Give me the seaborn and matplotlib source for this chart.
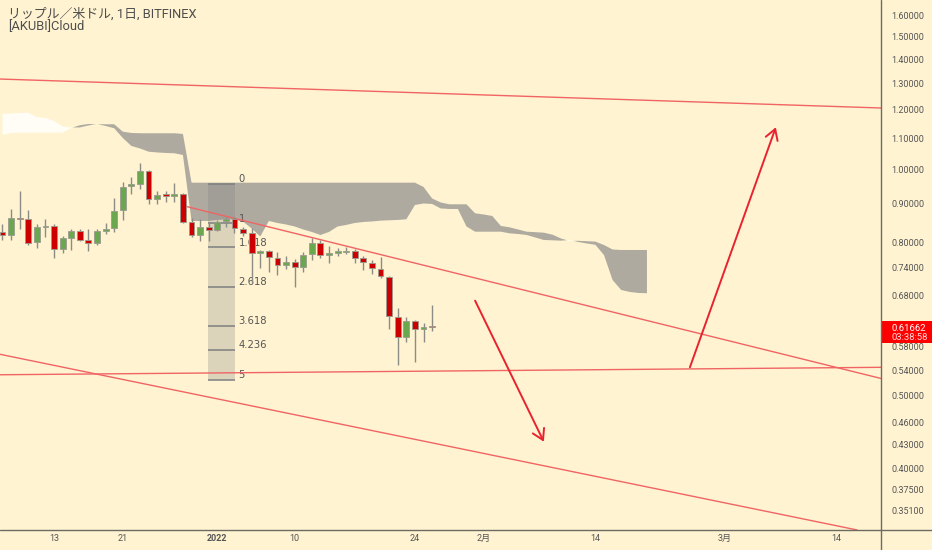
import matplotlib
matplotlib.use("Agg")
import matplotlib.pyplot as plt
import seaborn as sns
import numpy as np
from matplotlib.lines import Line2D
from matplotlib.patches import Rectangle

# ---- data (x = days from 2022-01-01, y = XRP/USD price) ----
candle_days = list(range(-25, 26))
opens = [0.8258, 0.8174, 0.8619, 0.8577, 0.8008, 0.8377, 0.8395, 0.7831, 0.8107, 0.8268,
         0.8050, 0.7969, 0.8276, 0.8359, 0.8817, 0.9490, 0.9557, 0.9945, 0.9119, 0.9260,
         0.9220, 0.9268, 0.8515, 0.8174, 0.8385, 0.8301, 0.8533, 0.8577, 0.8318, 0.8216,
         0.7729, 0.7783, 0.7625, 0.7457, 0.7519, 0.7404, 0.7705, 0.7984, 0.7688, 0.7743,
         0.7766, 0.7783, 0.7611, 0.7510, 0.7372, 0.7194, 0.6364, 0.5986, 0.6275, 0.6129, 0.6181]
highs = [0.8454, 0.8844, 0.9354, 0.8825, 0.8454, 0.8577, 0.8454, 0.8157, 0.8326, 0.8326,
         0.8326, 0.8318, 0.8488, 0.9155, 0.9615, 0.9773, 1.0182, 0.9976, 0.9363, 0.9363,
         0.9577, 0.9283, 0.8603, 0.8585, 0.8515, 0.8559, 0.8646, 0.8646, 0.8369, 0.8343,
         0.7807, 0.7807, 0.7766, 0.7665, 0.7588, 0.7759, 0.8092, 0.8050, 0.7903, 0.7848,
         0.7872, 0.7824, 0.7665, 0.7572, 0.7634, 0.7209, 0.6530, 0.6364, 0.6300, 0.6240, 0.6597]
lows = [0.8050, 0.8050, 0.8326, 0.7927, 0.7862, 0.8116, 0.7625, 0.7742, 0.7807, 0.8018,
        0.7783, 0.7927, 0.8207, 0.8258, 0.8551, 0.9260, 0.9412, 0.8989, 0.8989, 0.9052,
        0.9052, 0.8480, 0.8132, 0.8033, 0.8033, 0.8283, 0.8369, 0.8216, 0.8149, 0.7050,
        0.7381, 0.7305, 0.7231, 0.7359, 0.6977, 0.7305, 0.7572, 0.7611, 0.7510, 0.7665,
        0.7712, 0.7495, 0.7343, 0.7254, 0.7158, 0.6135, 0.5484, 0.5890, 0.5534, 0.5885, 0.6091]
closes = [0.8166, 0.8619, 0.8593, 0.7984, 0.8385, 0.8403, 0.7831, 0.8107, 0.8268, 0.8057,
          0.7977, 0.8268, 0.8334, 0.8798, 0.9469, 0.9557, 0.9945, 0.9119, 0.9248, 0.9220,
          0.9268, 0.8515, 0.8174, 0.8385, 0.8301, 0.8515, 0.8585, 0.8343, 0.8233, 0.7729,
          0.7783, 0.7634, 0.7457, 0.7519, 0.7404, 0.7688, 0.7984, 0.7688, 0.7729, 0.7783,
          0.7783, 0.7625, 0.7533, 0.7381, 0.7209, 0.6378, 0.5986, 0.6275, 0.6129, 0.6173, 0.6166]

# cloud spans, one value per day from -25 to 50
cloud_days = list(range(-25, 51))
lead_a = [1.1105, 1.1173, 1.1183, 1.1183, 1.1183, 1.1183, 1.1183, 1.1183, 1.1345, 1.1440,
          1.1485, 1.1478, 1.1475, 1.1475, 1.1218, 1.1173, 1.1163, 1.1163, 1.1163, 1.1163,
          1.1163, 1.1139] + [0.9595] * 27 + [
          0.9469, 0.9141, 0.9030, 0.8980, 0.8980, 0.8980, 0.8736, 0.8704, 0.8664, 0.8403,
          0.8369, 0.8313, 0.8257, 0.8245, 0.8232, 0.8182, 0.8087, 0.8025, 0.8030, 0.8020,
          0.8010, 0.7927, 0.7819, 0.7807, 0.7807, 0.7807, 0.7807]
lead_b = [1.1843, 1.1861, 1.1879, 1.1886, 1.1734, 1.1698, 1.1591, 1.1398, 1.1363, 1.1363,
          1.1433, 1.1485, 1.1415, 1.1335, 1.1003, 1.0737, 1.0655, 1.0551, 1.0525, 1.0509,
          1.0499, 1.0445, 0.8533, 0.8533, 0.8533, 0.8559, 0.8572, 0.8572, 0.8515, 0.8339,
          0.8137, 0.8533, 0.8480, 0.8441, 0.8390, 0.8313, 0.8250, 0.8174, 0.8250, 0.8390,
          0.8429, 0.8480, 0.8506, 0.8520, 0.8541, 0.8551, 0.8559, 0.8577, 0.8961, 0.9002,
          0.8989, 0.8866, 0.8852, 0.8852, 0.8390, 0.8257, 0.8257, 0.8257, 0.8257, 0.8216,
          0.8199, 0.8174, 0.8112, 0.8050, 0.8042, 0.8033, 0.8050, 0.8001, 0.7964, 0.7932,
          0.7688, 0.7121, 0.6907, 0.6865, 0.6844, 0.6838]

# fibonacci tool
fib_levels = ["0", "1", "1.618", "2.618", "3.618", "4.236", "5"]
fib_prices = [0.9557, 0.8475, 0.7869, 0.6979, 0.6189, 0.5747, 0.5242]
fib_days = [-1.08, 2.06]

# drawn trend lines: two points each (day, price)
top_line = [(-25.3, 1.318), (77.3, 1.206)]
flat_line = [(-25.3, 0.5327), (77.3, 0.5450)]
low_line = [(-25.3, 0.5672), (73.75, 0.3324)]
ray_days = [-3.85, 77.3]
ray_prices = [0.8934, 0.5265]

# arrows: (start, end)
arrow_down = [(30.0, 0.6684), (38.0, 0.4339)]
arrow_up = [(55.0, 0.5450), (65.0, 1.137)]

last_price = 0.61662
countdown = "03:38:58"

x_ticks = [-19, -11, 0, 9, 23, 31, 44, 59, 72]
x_labels = ["13", "21", "2022", "10", "24", "2月", "14", "3月", "14"]
y_ticks = [1.6, 1.5, 1.4, 1.3, 1.2, 1.1, 1.0, 0.9, 0.8, 0.74, 0.68, 0.58,
           0.54, 0.5, 0.46, 0.43, 0.4, 0.375, 0.351]

title = "リップル／米ドル, 1日, BITFINEX"
subtitle = "[AKUBI]Cloud"

# ---- style ----
bg = "#fff3d1"
sns.set_theme(style="white", rc={"axes.facecolor": bg, "figure.facecolor": bg})
plt.rcParams['font.family'] = ['Roboto', 'Noto Sans CJK JP', 'DejaVu Sans']
txt_col = "#555555"
line_col = "#f06464"
arrow_col = "#e8232f"
axis_col = "#6d6a62"

W, H = 932, 550
fig = plt.figure(figsize=(W / 100, H / 100), dpi=100)
ax = fig.add_axes([0, 20 / H, 881 / W, 530 / H])
ax.set_yscale("log")
ax.set_xlim(-25.29, 77.24)
ax.set_ylim(0.3311, 1.679)

# cloud
la = np.array(lead_a)
lb = np.array(lead_b)
ax.fill_between(cloud_days, la, lb, where=la >= lb, interpolate=True,
                color="#aeaaa0", lw=0, zorder=1)
ax.fill_between(cloud_days, la, lb, where=la < lb, interpolate=True,
                color="#fffdf6", lw=0, zorder=1)

# fibonacci box
ax.fill_between(fib_days, fib_prices[-1], fib_prices[0], color="#808080",
                alpha=0.27, lw=0, zorder=2)
ax.hlines(fib_prices, fib_days[0], fib_days[1], color="#7f7f7f", lw=1.1, zorder=2)
for lab, pr in zip(fib_levels, fib_prices):
    ax.annotate(lab, (fib_days[1], pr), xytext=(2.5, 3.3), textcoords="offset points",
                va="center", ha="left", fontsize=7.2, color=txt_col,
                family="DejaVu Sans", zorder=2)

# trend lines
for pts in (top_line, flat_line, low_line):
    ax.axline(pts[0], pts[1], color=line_col, lw=1.0, zorder=3)
sns.lineplot(x=ray_days, y=ray_prices, ax=ax, color=line_col, lw=1.0, zorder=3,
             sort=False)

# candles
for d, o, h, l, c in zip(candle_days, opens, highs, lows, closes):
    col = "#6aa84f" if c >= o else "#cc0000"
    ax.vlines(d, l, h, color="#8c8c86", lw=1.0, zorder=4)
    lo, hi = min(o, c), max(o, c)
    ax.bar(d, hi - lo, bottom=lo, width=0.68, color=col, edgecolor="#9c9a90",
           lw=0.6, zorder=5)

# arrows
for st, en in (arrow_down, arrow_up):
    ax.annotate("", xy=en, xytext=st,
                arrowprops=dict(arrowstyle="->,head_length=0.5,head_width=0.3",
                                color=arrow_col, lw=1.4, shrinkA=0, shrinkB=0,
                                mutation_scale=15), zorder=6)

# axes / ticks
ax.yaxis.tick_right()
ax.set_yticks(y_ticks)
ax.set_yticklabels([f"{v:.5f}" for v in y_ticks])
ax.yaxis.set_minor_locator(matplotlib.ticker.NullLocator())
ax.set_xticks(x_ticks)
ax.set_xticklabels(x_labels)
ax.tick_params(axis="y", length=0, pad=7.2, labelsize=6.5, labelcolor=txt_col)
ax.tick_params(axis="x", length=0, pad=3.2, labelsize=6.5, labelcolor=txt_col)
ax.get_xticklabels()[2].set_fontweight("bold")
for s in ax.spines.values():
    s.set_visible(False)
ax.grid(False)
ax.set_xlabel("")
ax.set_ylabel("")

# frame lines of the price / time scales
fig.add_artist(Line2D([881 / W, 881 / W], [0, 1], color=axis_col, lw=1.0))
fig.add_artist(Line2D([0, 1], [20 / H, 20 / H], color=axis_col, lw=1.0))

# last price tag
y_disp = ax.transData.transform((0, last_price))[1]
fig.add_artist(Rectangle((882 / W, (y_disp - 16) / H), 50 / W, 22 / H,
                         transform=fig.transFigure, color="#ff0000", lw=0))
fig.text(891 / W, (y_disp - 1) / H, f"{last_price:.5f}", color="white",
         fontsize=6.8, va="center", ha="left")
fig.text(891 / W, (y_disp - 10.5) / H, countdown, color="#ffd6d6",
         fontsize=6.8, va="center", ha="left")

# header
fig.text(8 / W, 1 - 14.3 / H, title, fontsize=9.3, color="#4d4d4d", va="center", ha="left")
fig.text(8 / W, 1 - 26.7 / H, subtitle, fontsize=9.3, color="#4d4d4d", va="center", ha="left")

fig.savefig("out.png", dpi=100, facecolor=bg)
